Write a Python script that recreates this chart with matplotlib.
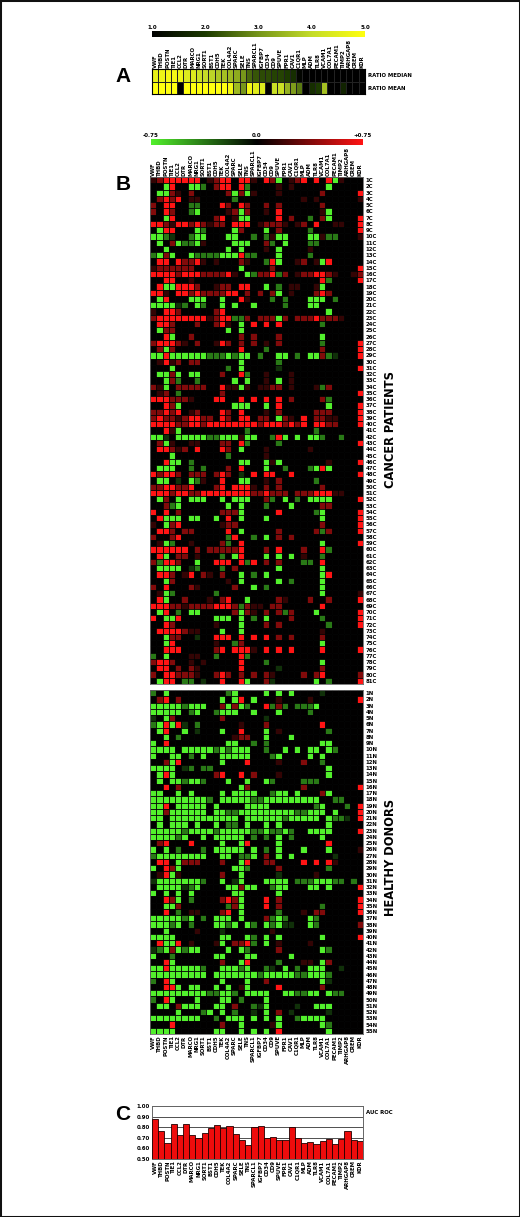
import numpy as np
import matplotlib
matplotlib.use('Agg')
import matplotlib.pyplot as plt
from matplotlib.colors import LinearSegmentedColormap

W, H = 520, 1217

genes = ['VWF', 'THBD', 'POSTN', 'TIE1', 'CCL2', 'DTR', 'MARCO', 'NRG1', 'SORT1', 'BST1',
         'CDH5', 'TEK', 'COL4A2', 'SPARC', 'SELE', 'TNS', 'SPARCL1', 'IGFBP7', 'CD34', 'CD9',
         'SPUVE', 'FPR1', 'CAV1', 'C1QR1', 'MLP', 'ADM', 'TLR8', 'VCAM1', 'COL7A1', 'PECAM1',
         'TIMP2', 'ARHGAP8', 'CREM', 'KDR']

ratio_median = [4.6, 4.7, 4.8, 4.8, 4.7, 4.4, 4.4, 4.1, 4.0, 3.9, 3.7, 3.6, 3.5, 3.3, 3.0, 2.5, 2.3,
                2.2, 2.2, 2.1, 2.1, 2.0, 1.8, 1.1, 1.0, 1.0, 1.0, 1.0, 1.0, 1.0, 1.0, 1.0, 1.0, 1.0]
ratio_mean = [5.0, 5.0, 5.0, 5.0, 1.0, 5.0, 5.0, 5.0, 5.0, 5.0, 5.0, 5.0, 4.8, 3.5, 3.0, 4.8, 4.5,
              4.4, 1.0, 4.1, 4.1, 3.4, 3.1, 2.7, 1.0, 1.8, 2.0, 3.6, 1.0, 1.0, 1.6, 1.0, 1.0, 1.0]

auc_roc = [0.88, 0.76, 0.65, 0.83, 0.73, 0.83, 0.73, 0.70, 0.75, 0.79, 0.82, 0.79, 0.81, 0.74, 0.68,
           0.63, 0.80, 0.81, 0.70, 0.71, 0.68, 0.68, 0.80, 0.70, 0.65, 0.66, 0.64, 0.67, 0.69, 0.64,
           0.69, 0.76, 0.68, 0.67]

# . none, a/r/R weak to strong up, c/g/G weak to strong down
levels = {'.': 0.0, 'a': 0.15, 'r': 0.38, 'R': 0.75, 'c': -0.15, 'g': -0.38, 'G': -0.75}

cancer_rows = [
    'arRRR RRR.a rRR.R Ra.Rr G.arR .R.RG a...',
    '..GR. .GGg. rRR.R g.... a.a.. ...G. ....',
    '.GGra .r... ..rGr Ga... a.... ..r.. ...R',
    '.rRrR .aa.. ...g. ..... ....a .a... ...a',
    'r.RR. .gg.. .Rr.R r..r. r.... ..r.. ....',
    'r.Rr. .gG.. ..arG r..a. R.... ..aG. ....',
    '..GR. ..... rR.aG G.... R.r.. g.rG. ...R',
    'RRraR RrRra rr.RR R.arr ra.ar .R..a a..R',
    '.GRR. ..Gg. ...Gr ...G. r.... g.... ...R',
    'GGgc. .gGG. ..GG. .g.ga GG... GGagg ...a',
    '.G.rG ggGa. ...GG G..rg .G... gg... ....',
    '..G.. ..... ..G.G ...a. G.... a.... ....',
    'gGrG. .Gggg gGGGR gg... G.... g.... ....',
    '.RR.R rrRa. a...r a..gR G..ar .aGR. ....',
    'arrrr rr... ....G ....r ..... ..... ...R',
    'RRRRr RRRrr rrRa. GgrrR gr.ar rRRra ..ar',
    '..RR. .a... ..... ..... ..... ..Rg. ...R',
    '.RGGR RRr.. arr.R R..G. g.aa. .aG.. ....',
    'RRa.R RrRrr rrRR. r.r.r G.a.. .rRr. ....',
    '.GR.. .GGG. .G..R a...g .g... GGG.g ....',
    'GGGGc g.Gg. .G.G. .G... .g... GG... ....',
    'a.RRr ..... rR... ..... ..... ...G. ....',
    'rRRRR RRRRa rRRgg r.rrr Gr.rr rRrrr a...',
    '.RRr. ..r.. rRa.G .R.R. R.... ..g.. ....',
    '.Grr. ..... ..G.G ..... ..... ..... ....',
    '..RG. .r... ....r .r... r.... ..G.. ....',
    'rRRRr a.r.. aRr.r .r.a. r.... ..g.. ...R',
    '.rGr. ..... ....R ...g. ..... ..r.. ...R',
    'GGRGG GGGGg ggGgG G.g.. GG.g. GGrgc ...R',
    '.aRar .rr.. ....G ..... g.... ..... ....',
    '...G. ..... ..g.G ..... c.... ..... ...R',
    '.GGrG .GG.. .r..R g..a. ..a.. ..... ....',
    '..Grg ..g.. ...G. G..a. G.a.. ..... ....',
    'raG.r rrrr. .RaaG a.aar r.a.. .agr. ....',
    '.ar.g ..... .r... ..... ..... ..... ...R',
    'RRRrr ra... RR..R .R.R. R.r.. ..rg. ....',
    '..RrG ..... ...GG G..G. R.... ...G. ...R',
    'rrRrR .ar.. .Rr.R ...a. r.... .rrr. ...R',
    'rRrra rRRrr .Rr.R R.rr. Gra.R .rraa ...R',
    'RRRRr rRRrR RRRRR RRrRR RrRrR .RRrr ...R',
    '..RaG ..... ..... g.... ..... .g... ....',
    'GGc.G GGGGg gGGGa GG..g RG.G. GGg.. g...',
    '.rGa. .aa.. .rr.R g.... g.... ..... ...R',
    '.RRra r.R.. .Rr.G ...a. ..... a.... ....',
    '...G. ..... ..g.. ...a. ..... ..... ....',
    '..RGG .g... ....G G..Ga G.... ...a. ...R',
    '.GGG. .g.g. ..r.R ...G. .g... gGRG. ....',
    'RrRRr .rrr. rRr.c .R.RR ..R.. ..... ...R',
    '.GG.c .Gga. .R..G G..a. r.... .g... ....',
    'rrRRr rR... rR.RR Ra.r. r.... ..r.. ....',
    'RRRrR RrrRR RRRRR RrrRr rr.rr rRRRa a...',
    '.Gr.G .GGG. .G.GG G..rg .G.g. GGGG. ...R',
    '..rgG ..... ..G.G ...g. ..G.. ..rr. ....',
    'R.R.r ..... .rrrG ..... R.... .gG.. ...R',
    '.RGGG .GG.. G.R.G ...G. ..... ..G.. ...R',
    'a.GrR ..... .arr. ..... ..... ..r.. ...R',
    '.RRr. rr... ..R.G ..... r.... .rgr. ...R',
    'r..rR ..... ..gR. .g.G. r.r.. ..... ....',
    '.aGg. .a... .rg.R ..... ..... ..G.. ...R',
    'RRRRR R.r.r rrrrR ...r. R...r ..Rg. ....',
    '.RG.r r.a.. .g.GR ...G. G.G.a ..g.. ....',
    'rgRRr ..G.. RRR.R gR.r. r...g g.R.. ....',
    '.GGGG .cg.. .g.r. ..... G.... ..G.. ....',
    '.RRr. aR.ra .r..G .g.G. ..... ..GR. ....',
    '..Gr. ..... ..a.G ..... G.g.. ..G.. ....',
    'r.R.. .ra.. ...r. .G.g. ..... ..G.. ....',
    '.aGg. ..... g.... ..... ..... ..G.. ...a',
    '.RG.. r...a .rR.. G.... ra... r..r. ...R',
    'RRRrr arrrr RRRrg raa.r r.... ..R.. ....',
    '.GR.g .GG.. ...rG ra.r. rgr.. .G... ...R',
    'R.GGR ..... GGG.G .g.G. ..r.. ..g.. ...R',
    '..Rr. ..... a...G ...r. r.... ...g. ...R',
    '.RRRR raa.. .G..G ..... ..... ..a.. ....',
    '..Grr ..c.. RRR.R .R.R. r.r.. ..r.. ....',
    '..GR. ..... a..gr ..... ..... ..G.. ....',
    '..RRR ..... rR.RR Ra.R. R.R.. ..R.. ...R',
    'g.G.. .aa.. g...R g.... ..... ..... ....',
    'rRRr. .a.a. ....R ...g. ..... ..G.. ....',
    '.RR.r .ra.. ....R ..... c.... ..r.. ....',
    'r.RRr rra.. rRr.r .r.ra ....r .rR.. ...r',
    '.GRR. gg.c. .R..R G..rc ..... .G.g. ...R',
]

healthy_rows = [
    'g.G.. ..... ..gG. ...G. G.G.. ..c.. ....',
    '.rR.r ..... .G.GR .G... a.... a.... ...R',
    'GGGGG gGGG. .rGrG g..Rg rg.gg gG... ....',
    'GGGGG .gG.. gGGG. .G... G.... g.... ....',
    'c.Gr. ..... .r... ...c. ..... ..... ....',
    'gGRGR c.g.. ....a ...r. ..... ..R.. ....',
    '.GR.. G.c.. .G..R ...G. a.... ...g. ....',
    '..G.g ..... ...ar r..G. ..G.. ..... ....',
    'G.R.. ..... ..GG. .g.g. ..... ..GG. ....',
    'GGGG. GGGGG gGgGG G..g. .G.G. GG.Gg ....',
    'G..GG .g.G. .GGGG G...g G.... G.G.. ....',
    '..rGR ..... .G... R.... a...r ..g.. ....',
    'GGGG. cg.gg ..... ..... ..... ...G. ....',
    '.GRG. ..... rR..R .r... a.... ...G. ....',
    '.G.GG gGGg. ..G.. G..Gg ....g gg... ....',
    '..R.r ..... ....G r.... ....r ..... ...R',
    'GG..G .G... .G.GG GG..g GG.G. ..rG. ....',
    'GGGGG GGGGg .GGGG GggGG GGGGG GG..g g...',
    'GGR.G GGGG. G.... GGGG. ..... .gG.. .g.R',
    'GGrGG GGGG. GGggG GGGGG GGGgg GGG.G ...R',
    'GG.GG GGGGG GGGG. GGGGG GgGGG GG.Gg gc.R',
    '.G.GG G.G.. G.gg. G..G. G.... ...G. ....',
    'GGGGG gGGGG gGGGG GggGg gGg.. GGGG. ...R',
    'GGGGg G..G. GGGGG .g.g. G.g.. ..G.. ....',
    '.rR.. .R... .G..G R.... G.... ...R. ....',
    'G.G.g ...g. GGGGG .G.g. G...G ...G. ...a',
    'gGGGG GGGG. .GG.g gG.r. G.G.. ....c ....',
    '.RR.G rrr.. .r..G R..rr ....R .R.Ra ....',
    'G.RrG ..... ...GG g.... r.... ...g. ....',
    '.aRGa ..... .r..G ..... c.... .a... ....',
    'cGGGG GGGg. .G.cG ...GG GG.gg gGGGg g.g.',
    '.GGGG cgG.. ..GGr GG..g GG... GG.G. ...R',
    'G.G.G .G... ...GG ..... G.... ..... ....',
    '..RrG .g... .rRrG ...R. r.... ..... ...R',
    '..GGr ..... ..grG ...R. r.... ..g.. ...R',
    '..R.g .aa.. .rR.G ..... g...a .rr.. ...R',
    'GGGGG gG.g. GGG.G ...rg Gg... Gg... ....',
    'GGGgG .g... GGgG. Gg.Gg Gcc.. Gg... ...r',
    '..G.. ..a.. .c... ....a ..... ..... ....',
    'GGGG. ..... .GG.. Gg.G. G.... ..G.. ...R',
    '.RGGR .a... aG.rr Rg.G. a.... a.... ....',
    'cgGrG gGG.. ..G.G g.... r.... ..Gg. ....',
    'G..g. ..... GG... GG... ..G.. ..... ....',
    '..RG. ..... .r..G R.... g...a a.Gr. ....',
    'GGRGG GGGg. .GGGg G..gc .G.g. GGG.. c...',
    'GGGGG GGGG. GGGGG GGgGG GGGgg GGGg. ....',
    'g.RG. ..... .G... G..r. ..... ..Gc. ....',
    '..RRG .GG.. G.G.a G.... R.... ..r.. ....',
    'GGGGG GGGGg gGGg. GGGG. .GGgg GG.Gg g...',
    'g.RG. ..G.. .GG.g ...G. ..... ..... ....',
    '.GG.r GGG.. GG.r. .gcG. ...c. .GGG. ....',
    '....G ...gG .G.g. .c.G. r.c.. ...c. ....',
    'GGGGG GGG.. g.GGG .G.G. G..gG GGG.. ....',
    '...R. ..... .r..G ....a G.... ..Gg. ....',
    'GGGG. ..... GG..G .G.G. R.... ...G. ....',
]

cancer_ids = [f'{i}C' for i in range(1, 82)]
healthy_ids = [f'{i}N' for i in range(1, 56)]

yellow_ticks = ['1.0', '2.0', '3.0', '4.0', '5.0']
yellow_tick_vals = [1, 2, 3, 4, 5]
auc_ticks = [0.5, 0.6, 0.7, 0.8, 0.9, 1.0]

plt.rcParams['font.family'] = ['DejaVu Sans']
plt.rcParams['font.weight'] = 'bold'

yellow_cmap = LinearSegmentedColormap.from_list('yb', ['#000000', '#1c3a00', '#76951a', '#c4dc28', '#ffff10'])
rg_cmap = LinearSegmentedColormap.from_list('rg', ['#52f02c', '#000000', '#ff1414'])

fig = plt.figure(figsize=(W / 100, H / 100), dpi=100, facecolor='white')


def axes_px(x0, y0, x1, y1):
    return fig.add_axes([x0 / W, 1 - y1 / H, (x1 - x0) / W, (y1 - y0) / H])


def decode(rows):
    return np.array([[levels[c] for c in r.replace(' ', '')] for r in rows])


def gene_axis(ax, where):
    ax.set_xticks(np.arange(len(genes)) + 0.5)
    ax.set_xticklabels(genes, rotation=90, fontsize=3.9, fontweight='bold')
    if where == 'top':
        ax.xaxis.tick_top()
    ax.tick_params(axis='x', length=0, pad=1)


def color_bar(rect, cmap, vmin, vmax):
    ax = axes_px(*rect)
    ax.imshow(np.linspace(vmin, vmax, 256)[None, :], cmap=cmap, aspect='auto', vmin=vmin, vmax=vmax,
              extent=[vmin, vmax, 0, 1])
    ax.set_yticks([])
    for s in ax.spines.values():
        s.set_visible(False)
    ax.xaxis.tick_top()
    ax.tick_params(axis='x', length=0, pad=1, labelsize=4)
    return ax


def heat(rect, rows, ids):
    ax = axes_px(*rect)
    ax.pcolormesh(decode(rows), cmap=rg_cmap, vmin=-0.75, vmax=0.75, edgecolors='black', linewidth=0.55,
                  antialiased=True)
    ax.set_ylim(len(rows), 0)
    ax.set_yticks(np.arange(len(rows)) + 0.5)
    ax.set_yticklabels(ids, fontsize=3.9, fontweight='bold')
    ax.yaxis.tick_right()
    ax.tick_params(axis='y', length=0, pad=2)
    for s in ax.spines.values():
        s.set_color('#666666')
        s.set_linewidth(0.6)
    return ax


# panel A
cb = color_bar((152, 31, 365, 37), yellow_cmap, 1, 5)
cb.set_xticks(yellow_tick_vals)
cb.set_xticklabels(yellow_ticks)

ax_a = axes_px(152, 69, 365, 94)
ax_a.pcolormesh(np.array([ratio_median, ratio_mean]), cmap=yellow_cmap, vmin=1, vmax=5,
                edgecolors='#222222', linewidth=0.6)
ax_a.set_ylim(2, 0)
ax_a.set_yticks([0.5, 1.5])
ax_a.set_yticklabels(['RATIO MEDIAN', 'RATIO MEAN'], fontsize=3.9, fontweight='bold')
ax_a.yaxis.tick_right()
ax_a.tick_params(axis='y', length=0, pad=2)
gene_axis(ax_a, 'top')

# panel B
cb2 = color_bar((151, 139, 363, 145), rg_cmap, -0.75, 0.75)
cb2.set_xticks([-0.75, 0.0, 0.75])
cb2.set_xticklabels(['-0.75', '0.0', '+0.75'])

ax_c = heat((150, 177, 363, 684), cancer_rows, cancer_ids)
gene_axis(ax_c, 'top')
ax_n = heat((150, 690, 363, 1034), healthy_rows, healthy_ids)
gene_axis(ax_n, 'bottom')

# panel C
ax_b = axes_px(152, 1106, 363, 1159)
ax_b.bar(np.arange(len(genes)) + 0.5, auc_roc, width=1.0, color='#ee0c0c', edgecolor='#200000',
         linewidth=0.6, zorder=3)
ax_b.set_xlim(0, len(genes))
ax_b.set_ylim(0.5, 1.0)
ax_b.set_yticks(auc_ticks)
ax_b.set_yticklabels([f'{v:.2f}' for v in auc_ticks], fontsize=3.9, fontweight='bold')
ax_b.tick_params(axis='y', length=0, pad=1.5)
ax_b.grid(axis='y', color='#333333', linewidth=0.6, zorder=0)
for s in ax_b.spines.values():
    s.set_color('#666666')
    s.set_linewidth(0.7)
gene_axis(ax_b, 'bottom')

# figure texts
for letter, y in [('A', 76), ('B', 185), ('C', 1115)]:
    fig.text(123 / W, 1 - y / H, letter, family='Liberation Sans', fontsize=15, fontweight='bold',
             ha='center', va='center')
fig.text(366 / W, 1 - 1112 / H, 'AUC ROC', fontsize=3.9, fontweight='bold', va='center')
fig.text(390 / W, 1 - 429 / H, 'CANCER PATIENTS', fontsize=8.3, fontweight='bold',
         rotation=90, ha='center', va='center')
fig.text(390 / W, 1 - 857 / H, 'HEALTHY DONORS', fontsize=8.3, fontweight='bold',
         rotation=90, ha='center', va='center')

# outer frame
fig.patches.append(plt.Rectangle((0, 0), 1, 1, transform=fig.transFigure, fill=False,
                                 edgecolor='#111111', linewidth=2.2))

fig.savefig('out.png', dpi=100)
